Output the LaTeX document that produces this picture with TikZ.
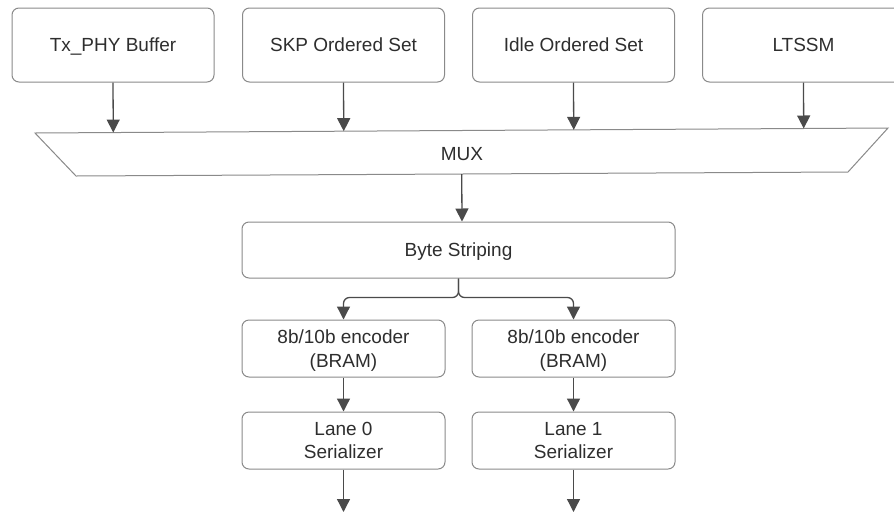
\documentclass[tikz,border=0pt]{standalone}
\usepackage{fontspec}
\setmainfont{Liberation Sans}
\usetikzlibrary{arrows.meta,calc}
\definecolor{boxline}{HTML}{8A8A8A}
\definecolor{arrowline}{HTML}{4A4A4A}
\definecolor{labeltext}{HTML}{2E2E2E}
\tikzset{
  blk/.style={draw=boxline, line width=1pt, rounded corners=7pt, fill=white,
    text=labeltext, align=center, inner sep=2pt, text depth=0pt,
    font=\fontsize{19}{23.5}\selectfont},
  topblk/.style={blk, minimum width=202pt, minimum height=74pt},
  laneblk/.style={blk, minimum width=203pt, minimum height=57pt},
  arr/.style={draw=arrowline, line width=1.3pt,
    -{Triangle[length=13pt,width=13pt]}},
}
\begin{document}
\begin{tikzpicture}[x=1pt,y=-1pt]
\useasboundingbox (0,0) rectangle (894,512);
\clip (0,0) rectangle (894,512);

% input sources
\node[topblk] (tx)   at (113,45)   {Tx\_PHY Buffer};
\node[topblk] (skp)  at (343.5,45) {SKP Ordered Set};
\node[topblk] (idle) at (573.5,45) {Idle Ordered Set};
\node[topblk] (ltssm) at (803.5,45) {LTSSM};

% multiplexer outline
\coordinate (mA) at (35,133);
\coordinate (mB) at (888,128);
\coordinate (mC) at (848,172);
\coordinate (mD) at (76,176);
\draw[boxline, line width=1pt, fill=white] (mA) -- (mB) -- (mC) -- (mD) -- cycle;
\node[text=labeltext, text depth=0pt, font=\fontsize{19}{23.5}\selectfont] (mux) at (462,154) {MUX};

\foreach \n in {tx,skp,idle,ltssm}
  \draw[arr] (\n.south) -- ($(mA)!(\n.south)!(mB)$);

% striping and lanes
\node[blk, minimum width=433pt, minimum height=56pt] (bs) at (458.5,250) {Byte Striping};
\draw[arr] ($(mD)!([xshift=3.5pt]bs.north)!(mC)$) -- ([xshift=3.5pt]bs.north);

\node[laneblk] (enc0) at (343.5,348.5) {8b/10b encoder\\(BRAM)};
\node[laneblk] (enc1) at (573.5,348.5) {8b/10b encoder\\(BRAM)};
\node[laneblk] (ser0) at (343.5,440.5) {Lane 0\\Serializer};
\node[laneblk] (ser1) at (573.5,440.5) {Lane 1\\Serializer};

\draw[arr, rounded corners=6pt] (bs.south) -- ++(0,19) -| (enc0.north);
\draw[arr, rounded corners=6pt] (bs.south) -- ++(0,19) -| (enc1.north);
\draw[arr] (enc0.south) -- (ser0.north);
\draw[arr] (enc1.south) -- (ser1.north);

\coordinate (out0) at (343.5,512);
\coordinate (out1) at (573.5,512);
\draw[arr] (ser0.south) -- (out0);
\draw[arr] (ser1.south) -- (out1);
\end{tikzpicture}
\end{document}
